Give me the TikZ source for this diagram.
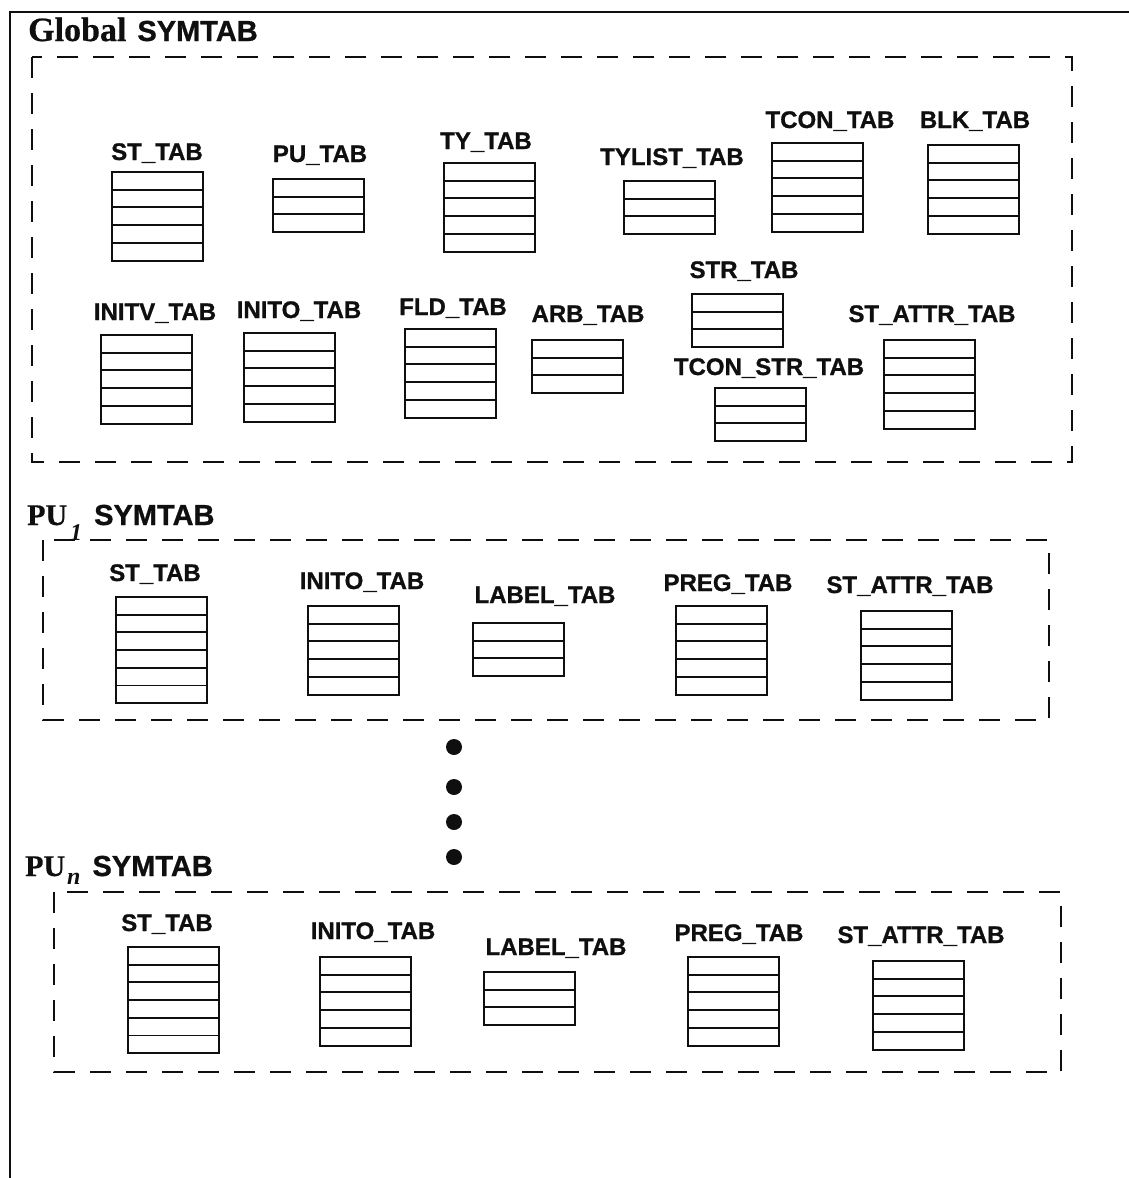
\documentclass[tikz,border=0pt]{standalone}
\usepackage{fontspec}
\setmainfont{Liberation Serif}[BoldFeatures={FakeBold=0.6}]
\setsansfont{Liberation Sans}[BoldFeatures={FakeBold=0.9}]
\usepackage{tikz}
\usetikzlibrary{calc}
\definecolor{stInk}{RGB}{15,15,15}
\newcommand{\tabfont}{\sffamily\bfseries\fontsize{24}{24}\selectfont}
\newcommand{\symfont}{\sffamily\bfseries\fontsize{29}{29}\selectfont}
\newcommand{\symtable}[5]{%
  \node[tabbox, minimum height=#3*17.7pt] (#1) at (#2) {};
  \pgfmathtruncatemacro{\lastrow}{#3-1}
  \foreach \r in {1,...,\lastrow}
    \draw[rowline] ($(#1.north west)+(0,\r*17.7)$) -- ($(#1.north east)+(0,\r*17.7)$);
  \node[tablabel] (#1-lbl) at (#4) {#5};
}
\tikzset{
  tabbox/.style={draw=stInk, line width=2pt, minimum width=91pt, inner sep=0pt, outer sep=0pt, anchor=north west},
  rowline/.style={draw=stInk, line width=1.9pt},
  tablabel/.style={anchor=base, inner sep=0pt, font=\tabfont, text=stInk},
  grouptitle/.style={anchor=base west, inner sep=0pt, text=stInk},
  groupbox/.style={draw=stInk, line width=2.2pt, dash pattern=on 21pt off 15pt},
  frameline/.style={draw=stInk, line width=2.2pt},
  dotmark/.style={circle, fill=stInk, minimum size=16pt, inner sep=0pt},
}

\begin{document}
\begin{tikzpicture}[x=1pt,y=-1pt]
  \useasboundingbox (0,0) rectangle (1129,1178);
  \fill[white] (0,0) rectangle (1129,1178);
  \draw[frameline] (1129,12) -- (10,12) -- (10,1178);

  \node[grouptitle] (gtitle) at (28,41) {\fontsize{34}{34}\selectfont\bfseries Global\hspace{11pt}\symfont SYMTAB};
  \draw[groupbox] (32,57) rectangle (1072,462);
  \symtable{gst}{112,172}{5}{157,160}{ST\_TAB}
  \symtable{gpu}{273,179}{3}{320,162}{PU\_TAB}
  \symtable{gty}{444,163}{5}{486,149}{TY\_TAB}
  \symtable{gtylist}{624,181}{3}{672,165}{TYLIST\_TAB}
  \symtable{gtcon}{772,143}{5}{830,128}{TCON\_TAB}
  \symtable{gblk}{928,145}{5}{975,128}{BLK\_TAB}
  \symtable{ginitv}{101,335}{5}{155,320}{INITV\_TAB}
  \symtable{ginito}{244,333}{5}{299,318}{INITO\_TAB}
  \symtable{gfld}{405,329}{5}{453,315}{FLD\_TAB}
  \symtable{garb}{532,340}{3}{588,322}{ARB\_TAB}
  \symtable{gstr}{692,294}{3}{744,278}{STR\_TAB}
  \symtable{gtconstr}{715,388}{3}{769,375}{TCON\_STR\_TAB}
  \symtable{gattr}{884,340}{5}{932,322}{ST\_ATTR\_TAB}

  \node[grouptitle] (p1title) at (27,525) {\fontsize{30}{30}\selectfont\bfseries PU\hspace{3pt}\raisebox{-15pt}{\fontsize{24}{24}\selectfont\itshape 1}\hspace{12pt}\symfont SYMTAB};
  \draw[groupbox] (43,540) rectangle (1049,720);
  \symtable{p1st}{116,597}{6}{155,581}{ST\_TAB}
  \symtable{p1inito}{308,606}{5}{362,589}{INITO\_TAB}
  \symtable{p1label}{473,623}{3}{545,603}{LABEL\_TAB}
  \symtable{p1preg}{676,606}{5}{728,591}{PREG\_TAB}
  \symtable{p1attr}{861,611}{5}{910,593}{ST\_ATTR\_TAB}

  \foreach \y in {747,787,822,857}
    \node[dotmark] (dot\y) at (454,\y) {};

  \node[grouptitle] (pntitle) at (25,876) {\fontsize{30}{30}\selectfont\bfseries PU\hspace{2pt}\raisebox{-8pt}{\fontsize{24}{24}\selectfont\itshape n}\hspace{12pt}\symfont SYMTAB};
  \draw[groupbox] (54,892) rectangle (1061,1072);
  \symtable{pnst}{128,947}{6}{167,931}{ST\_TAB}
  \symtable{pninito}{320,957}{5}{373,939}{INITO\_TAB}
  \symtable{pnlabel}{484,972}{3}{556,955}{LABEL\_TAB}
  \symtable{pnpreg}{688,957}{5}{739,941}{PREG\_TAB}
  \symtable{pnattr}{873,961}{5}{921,943}{ST\_ATTR\_TAB}
\end{tikzpicture}
\end{document}
